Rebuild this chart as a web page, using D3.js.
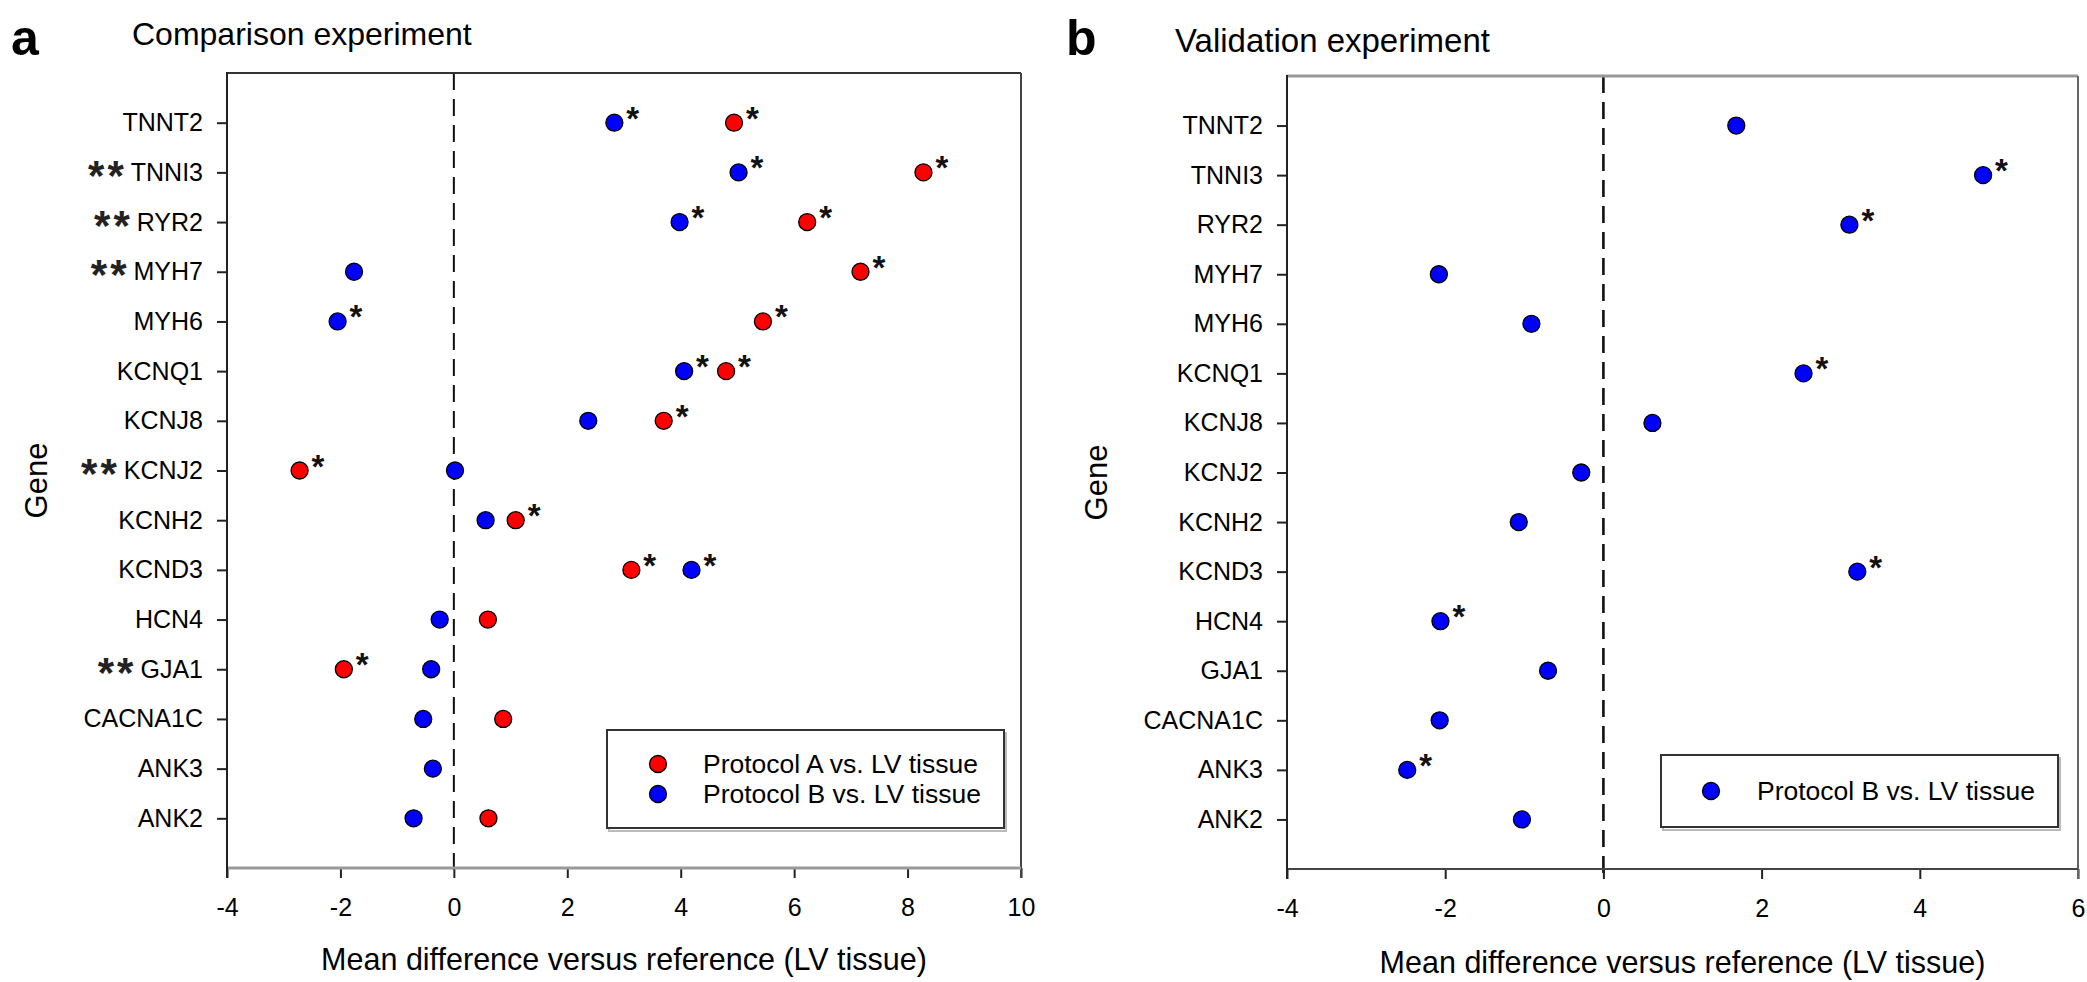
<!DOCTYPE html>
<html>
<head>
<meta charset="utf-8">
<script src="https://cdn.jsdelivr.net/npm/d3@7"></script>
<style>
  html, body { margin: 0; padding: 0; background: #fff; }
  svg { display: block; font-family: "Liberation Sans", Arial, sans-serif; }
</style>
</head>
<body>
<svg id="chart" width="2087" height="982"></svg>
<script>
// ---------- DATA ----------
const genes = ["TNNT2","TNNI3","RYR2","MYH7","MYH6","KCNQ1","KCNJ8","KCNJ2","KCNH2","KCND3","HCN4","GJA1","CACNA1C","ANK3","ANK2"];

// Panel a: Comparison experiment
const compProtocolA     = [4.94, 8.28, 6.23, 7.17, 5.45, 4.80, 3.70, -2.72, 1.09, 3.13, 0.60, -1.94, 0.87, null, 0.61];
const compProtocolAStar = [1, 1, 1, 1, 1, 1, 1, 1, 1, 1, 0, 1, 0, 0, 0];
const compProtocolB     = [2.83, 5.02, 3.98, -1.76, -2.05, 4.06, 2.37, 0.02, 0.56, 4.19, -0.25, -0.40, -0.54, -0.37, -0.71];
const compProtocolBStar = [1, 1, 1, 0, 1, 1, 0, 0, 0, 1, 0, 0, 0, 0, 0];
const compGeneDoubleStar = [0, 1, 1, 1, 0, 0, 0, 1, 0, 0, 0, 1, 0, 0, 0];
const compXTicks = [-4, -2, 0, 2, 4, 6, 8, 10];

// Panel b: Validation experiment
const valProtocolB     = [1.68, 4.80, 3.11, -2.08, -0.91, 2.53, 0.62, -0.28, -1.07, 3.21, -2.06, -0.70, -2.07, -2.48, -1.03];
const valProtocolBStar = [0, 1, 1, 0, 0, 1, 0, 0, 0, 1, 1, 0, 0, 1, 0];
const valXTicks = [-4, -2, 0, 2, 4, 6];

const legendA = ["Protocol A vs. LV tissue", "Protocol B vs. LV tissue"];
const legendB = ["Protocol B vs. LV tissue"];
const xTitle = "Mean difference versus reference (LV tissue)";
const yTitle = "Gene";

// ---------- DRAW ----------
const svg = d3.select("#chart");
const RED = "#ff0000", BLUE = "#0000ff";
const FONT = "'Liberation Sans', Arial, sans-serif";

function panel(cfg) {
  const g = svg.append("g");
  const x = d3.scaleLinear().domain(cfg.xDomain).range([cfg.left, cfg.right]);
  // 15 genes placed in 16 equal slots top-to-bottom (first gene at slot 1)
  const y = d3.scalePoint().domain(["_top", ...genes, "_bot"]).range([cfg.top, cfg.bottom]);

  // panel letter + title
  g.append("text").attr("x", cfg.letterX).attr("y", cfg.letterY)
    .attr("font-size", 50).attr("font-weight", "bold").attr("fill", "#000").text(cfg.letter);
  g.append("text").attr("x", cfg.titleX).attr("y", cfg.titleY)
    .attr("font-size", cfg.titleSize).attr("fill", "#000").text(cfg.title);

  // zero dashed line
  g.append("line").attr("x1", x(0)).attr("x2", x(0))
    .attr("y1", cfg.top).attr("y2", cfg.bottom + 10)
    .attr("stroke", "#111").attr("stroke-width", cfg.dashW).attr("stroke-dasharray", "17,9");

  // x axis
  const xAxis = d3.axisBottom(x).tickValues(cfg.xTicks).tickSize(10).tickPadding(20)
    .tickFormat(d3.format("d"));
  const gx = g.append("g").attr("transform", `translate(0,${cfg.bottom})`).call(xAxis);
  gx.select(".domain").remove();
  gx.selectAll(".tick line").attr("stroke", "#222").attr("stroke-width", 2);
  gx.selectAll(".tick text").attr("font-size", 25).attr("font-family", FONT).attr("fill", "#000")
    .text(d => d < 0 ? "-" + Math.abs(d) : d);

  // y axis
  const yAxis = d3.axisLeft(y).tickValues(genes).tickSize(10).tickPadding(14);
  const gy = g.append("g").attr("transform", `translate(${cfg.left},0)`).call(yAxis);
  gy.select(".domain").remove();
  gy.selectAll(".tick line").attr("stroke", "#222").attr("stroke-width", 2);
  gy.selectAll(".tick text").attr("font-size", 25).attr("font-family", FONT).attr("fill", "#000");

  // double stars before gene labels
  if (cfg.doubleStar) {
    gy.selectAll(".tick").each(function(d) {
      const i = genes.indexOf(d);
      if (!cfg.doubleStar[i]) return;
      const t = d3.select(this).select("text");
      const w = t.node().getComputedTextLength();
      d3.select(this).append("text")
        .attr("x", -(10 + 14) - w - 4).attr("y", 0).attr("dy", 17)
        .attr("text-anchor", "end").attr("font-size", 42).attr("font-weight", "bold")
        .attr("font-family", FONT).attr("fill", "#222").attr("letter-spacing", 3).text("**");
    });
  }

  // frame
  const fr = cfg.frame;
  g.append("line").attr("x1", cfg.left).attr("x2", cfg.right).attr("y1", cfg.top).attr("y2", cfg.top)
    .attr("stroke", fr.top[0]).attr("stroke-width", fr.top[1]);
  g.append("line").attr("x1", cfg.right).attr("x2", cfg.right).attr("y1", cfg.top).attr("y2", cfg.bottom + 10)
    .attr("stroke", fr.right[0]).attr("stroke-width", fr.right[1]);
  g.append("line").attr("x1", cfg.left).attr("x2", cfg.right).attr("y1", cfg.bottom).attr("y2", cfg.bottom)
    .attr("stroke", fr.bottom[0]).attr("stroke-width", fr.bottom[1]);
  g.append("line").attr("x1", cfg.left).attr("x2", cfg.left).attr("y1", cfg.top - 1).attr("y2", cfg.bottom + 10)
    .attr("stroke", fr.left[0]).attr("stroke-width", fr.left[1]);

  // axis titles
  g.append("text").attr("x", (cfg.left + cfg.right) / 2).attr("y", cfg.xTitleY)
    .attr("text-anchor", "middle").attr("font-size", 30.5).attr("fill", "#000").text(xTitle);
  g.append("text").attr("transform", `translate(${cfg.yTitleX},${(cfg.top + cfg.bottom) / 2 + 10}) rotate(-90)`)
    .attr("text-anchor", "middle").attr("font-size", 31).attr("fill", "#000").text(yTitle);

  // series
  cfg.series.forEach(s => {
    const pts = genes.map((gname, i) => ({ gname, v: s.values[i], star: s.stars[i] }))
      .filter(p => p.v !== null);
    g.append("g").selectAll("circle").data(pts).join("circle")
      .attr("cx", p => x(p.v)).attr("cy", p => y(p.gname)).attr("r", 8.5)
      .attr("fill", s.color).attr("stroke", "#000").attr("stroke-width", 1.3);
    g.append("g").selectAll("text").data(pts.filter(p => p.star)).join("text")
      .attr("x", p => x(p.v) + 12).attr("y", p => y(p.gname) + 7)
      .attr("font-size", 33).attr("font-weight", "bold").attr("fill", "#111").text("*");
  });

  // legend
  const L = cfg.legend;
  g.append("rect").attr("x", L.x + 2).attr("y", L.y + 3).attr("width", L.w).attr("height", L.h)
    .attr("fill", "none").attr("stroke", "#bbb").attr("stroke-width", 2);
  g.append("rect").attr("x", L.x).attr("y", L.y).attr("width", L.w).attr("height", L.h)
    .attr("fill", "#fff").attr("stroke", "#333").attr("stroke-width", 2);
  L.items.forEach((it, i) => {
    const cy = L.firstY + i * 30;
    g.append("circle").attr("cx", L.circleX).attr("cy", cy).attr("r", 8.5)
      .attr("fill", it.color).attr("stroke", "#000").attr("stroke-width", 1.3);
    g.append("text").attr("x", L.textX).attr("y", cy + 9).attr("font-size", 26.5).attr("fill", "#000").text(it.label);
  });
}

panel({
  letter: "a", letterX: 11, letterY: 55, title: "Comparison experiment", titleX: 132, titleY: 45, titleSize: 32,
  xDomain: [-4, 10], xTicks: compXTicks, left: 227, right: 1021, top: 73, bottom: 868,
  dashW: 2, xTitleY: 970, yTitleX: 47,
  frame: { top: ["#333", 2], right: ["#444", 2], bottom: ["#999", 3], left: ["#222", 2] },
  doubleStar: compGeneDoubleStar,
  series: [
    { values: compProtocolA, stars: compProtocolAStar, color: RED },
    { values: compProtocolB, stars: compProtocolBStar, color: BLUE }
  ],
  legend: { x: 607, y: 730, w: 397, h: 98, circleX: 658, textX: 703, firstY: 764,
    items: [{ label: legendA[0], color: RED }, { label: legendA[1], color: BLUE }] }
});

panel({
  letter: "b", letterX: 1066, letterY: 55, title: "Validation experiment", titleX: 1175, titleY: 52, titleSize: 33,
  xDomain: [-4, 6], xTicks: valXTicks, left: 1287, right: 2078, top: 76, bottom: 869,
  dashW: 2.6, xTitleY: 973, yTitleX: 1107,
  frame: { top: ["#999", 3], right: ["#666", 2], bottom: ["#444", 2], left: ["#222", 2] },
  doubleStar: null,
  series: [
    { values: valProtocolB, stars: valProtocolBStar, color: BLUE }
  ],
  legend: { x: 1661, y: 755, w: 397, h: 72, circleX: 1711, textX: 1757, firstY: 791,
    items: [{ label: legendB[0], color: BLUE }] }
});
</script>
</body>
</html>
